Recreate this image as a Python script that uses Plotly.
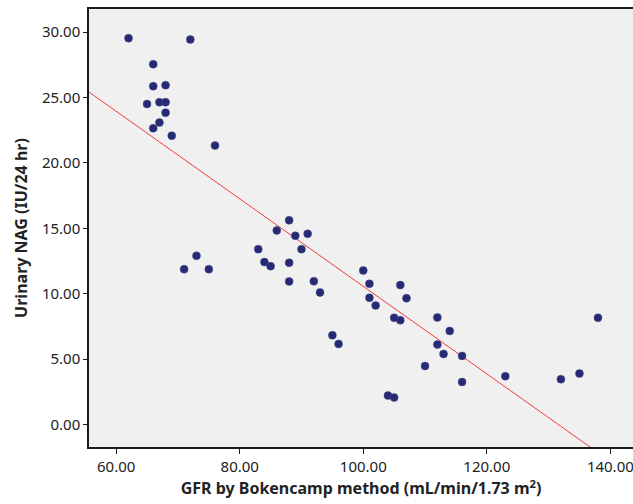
import numpy as np
import plotly.graph_objects as go

gfr = [62, 72, 66, 66, 68, 65, 67, 68, 68, 67, 66, 69, 76,
       73, 75, 71,
       88, 86, 89, 91, 90, 83, 84, 85, 88, 88, 92, 93, 100, 101, 101, 102,
       106, 107, 105, 106, 112, 112, 95, 96, 110, 104, 105,
       114, 113, 116, 116, 123, 132, 135, 138]
nag = [29.53, 29.43, 27.54, 25.86, 25.94, 24.50, 24.64, 24.64, 23.84, 23.08, 22.65, 22.08, 21.32,
       12.90, 11.88, 11.88,
       15.61, 14.84, 14.43, 14.58, 13.41, 13.41, 12.42, 12.11, 12.37, 10.94, 10.96, 10.10, 11.78, 10.76, 9.69, 9.10,
       10.66, 9.66, 8.16, 7.98, 8.19, 6.12, 6.83, 6.17, 4.48, 2.22, 2.07,
       7.16, 5.40, 5.25, 3.26, 3.70, 3.47, 3.90, 8.16]

x_ticks = [60, 80, 100, 120, 140]
x_tick_text = ["60.00", "80.00", "100.00", "120.00", "140.00"]
y_ticks = [0, 5, 10, 15, 20, 25, 30]
y_tick_text = ["0.00", "5.00", "10.00", "15.00", "20.00", "25.00", "30.00"]

x_range = [55.6, 143.67]
y_range = [-1.71, 31.76]

slope, intercept = np.polyfit(gfr, nag, 1)
fit_x = np.array(x_range)
fit_y = intercept + slope * fit_x

fig = go.Figure()
fig.add_trace(go.Scatter(x=fit_x, y=fit_y, mode="lines",
                         line=dict(color="#f03c3c", width=1), hoverinfo="skip"))
fig.add_trace(go.Scatter(x=gfr, y=nag, mode="markers",
                         marker=dict(color="#262a72", size=8,
                                     line=dict(color="#4a4e8e", width=0.5))))

font = "Noto Sans, DejaVu Sans, sans-serif"
fig.update_layout(
    width=633, height=504,
    margin=dict(l=89, r=0, t=9, b=57),
    paper_bgcolor="white", plot_bgcolor="#f0f0f0",
    showlegend=False,
    font=dict(family=font, size=15, color="#222222"),
    xaxis=dict(range=x_range, tickvals=x_ticks, ticktext=x_tick_text,
               showgrid=False, zeroline=False, showline=True, linecolor="#1a1a1a",
               linewidth=1.5, mirror=True, ticks="outside", ticklen=5, tickcolor="#1a1a1a",
               tickfont=dict(size=15), ticklabeloverflow="allow",
               title=dict(text="<b>GFR by Bokencamp method (mL/min/1.73 m<sup>2</sup>)</b>",
                          font=dict(size=16), standoff=6)),
    yaxis=dict(range=y_range, tickvals=y_ticks, ticktext=y_tick_text,
               showgrid=False, zeroline=False, showline=True, linecolor="#1a1a1a",
               linewidth=1.5, ticks="outside", ticklen=4, tickcolor="#1a1a1a",
               tickfont=dict(size=15),
               title=dict(text="<b>Urinary NAG (IU/24 hr)</b>", font=dict(size=16), standoff=10)),
)
fig.write_html("out.html", config={"displayModeBar": False},
               post_script="document.body.style.margin='0';document.body.style.overflow='hidden';")
